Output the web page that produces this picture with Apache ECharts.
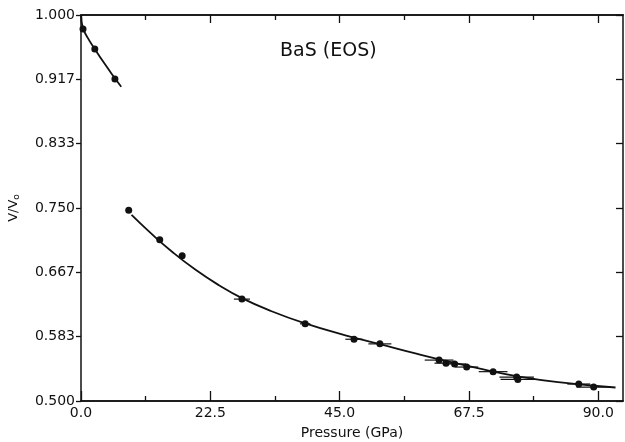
<!DOCTYPE html>
<html>
<head>
<meta charset="utf-8">
<script src="https://cdn.jsdelivr.net/npm/echarts@6/dist/echarts.min.js"></script>
<style>
  html, body { margin: 0; padding: 0; background: #fff; }
  #chart { width: 625px; height: 442px; }
</style>
</head>
<body>
<div id="chart"></div>
<script>
// low pressure phase (B1) points
var lowP = [0.35, 2.4, 5.9]
var lowV = [0.982, 0.956, 0.917]
// high pressure phase (B2) points, with pressure error half-widths
var highP = [8.3, 13.7, 17.6, 28.0, 39.0, 47.5, 52.0, 62.3, 63.5, 65.0, 67.1, 71.7, 75.8, 76.0, 86.6, 89.2]
var highV = [0.747, 0.709, 0.688, 0.632, 0.600, 0.580, 0.574, 0.553, 0.549, 0.548, 0.544, 0.538, 0.531, 0.528, 0.522, 0.518]
var highErr = [0, 0.5, 0.5, 1.4, 0.9, 1.5, 2.0, 2.5, 2.0, 2.0, 2.0, 2.5, 3.0, 3.0, 2.0, 3.0]
// fitted EOS curves
var fitLowP = [0, 0.35, 1.2, 2.4, 4.0, 5.9, 7.0]
var fitLowV = [1.0, 0.983, 0.970, 0.956, 0.938, 0.918, 0.907]
var fitHighP = [8.8, 12, 16, 20, 24, 28, 33, 39, 46, 52, 58, 64, 70, 76, 83, 93]
var fitHighV = [0.741, 0.7184, 0.6924, 0.6696, 0.650, 0.6332, 0.6167, 0.6005, 0.5851, 0.5737, 0.562, 0.551, 0.541, 0.532, 0.5245, 0.5175]
// ticks
var xMajor = [0, 22.5, 45, 67.5, 90]
var xMinor = [11.25, 33.75, 56.25, 78.75]
var yTicks = [0.5, 0.58333, 0.66667, 0.75, 0.83333, 0.91667, 1.0]

var ink = '#111'
var font = 'DejaVu Sans'

function pairs(a, b) {
  return a.map(function (v, i) { return [v, b[i]] })
}

var chart = echarts.init(document.getElementById('chart'))

function xAx(pos, ticks, len, labels) {
  return {
    type: 'value',
    position: pos,
    min: 0,
    max: 94.3,
    axisLine: { show: true, onZero: false, lineStyle: { color: ink, width: 1.5 } },
    splitLine: { show: false },
    axisTick: { show: true, inside: true, length: len, customValues: ticks, lineStyle: { color: ink, width: 1.3 } },
    axisLabel: labels ? {
      show: true,
      customValues: xMajor,
      margin: 5,
      color: ink,
      fontFamily: font,
      fontSize: 14,
      formatter: function (v) { return v.toFixed(1) }
    } : { show: false }
  }
}

var option = {
  backgroundColor: '#fff',
  animation: false,
  grid: { left: 81, right: 2, top: 15, bottom: 41, outerBoundsMode: 'none' },
  title: {
    text: 'BaS (EOS)',
    left: 275,
    top: 37,
    textStyle: { fontFamily: font, fontSize: 19, fontWeight: 'normal', color: ink }
  },
  xAxis: [
    Object.assign(xAx('bottom', xMajor, 10, true), {
      name: 'Pressure (GPa)',
      nameLocation: 'middle',
      nameGap: 25,
      nameTextStyle: { fontFamily: font, fontSize: 14, color: ink }
    }),
    xAx('bottom', xMinor, 5, false),
    xAx('top', xMajor, 8, false),
    xAx('top', xMinor, 5, false)
  ],
  yAxis: [
    {
      type: 'value',
      position: 'left',
      min: 0.5,
      max: 1.0,
      name: 'V/V{sub|o}',
      nameLocation: 'middle',
      nameGap: 60,
      nameTextStyle: {
        fontFamily: font, fontSize: 13, color: ink,
        rich: { sub: { fontFamily: font, fontSize: 9, color: ink, padding: [6, 0, 0, 0] } }
      },
      axisLine: { show: true, onZero: false, lineStyle: { color: ink, width: 1.5 } },
      splitLine: { show: false },
      axisTick: { show: true, inside: false, length: 5, customValues: yTicks, lineStyle: { color: ink, width: 1.3 } },
      axisLabel: {
        customValues: yTicks,
        margin: 6,
        color: ink,
        fontFamily: font,
        fontSize: 14,
        formatter: function (v) { return v.toFixed(3) }
      }
    },
    {
      type: 'value',
      position: 'right',
      min: 0.5,
      max: 1.0,
      axisLine: { show: true, onZero: false, lineStyle: { color: ink, width: 1.5 } },
      splitLine: { show: false },
      axisTick: { show: true, inside: true, length: 7, customValues: yTicks, lineStyle: { color: ink, width: 1.3 } },
      axisLabel: { show: false }
    }
  ],
  series: [
    {
      type: 'line',
      data: pairs(fitLowP, fitLowV),
      smooth: 0.5,
      symbol: 'none',
      lineStyle: { color: ink, width: 1.8 }
    },
    {
      type: 'line',
      data: pairs(fitHighP, fitHighV),
      smooth: 0.5,
      symbol: 'none',
      lineStyle: { color: ink, width: 1.8 }
    },
    {
      type: 'custom',
      data: highP.map(function (p, i) { return [p, highV[i], highErr[i]] }),
      renderItem: function (params, api) {
        var p = api.value(0), v = api.value(1), e = api.value(2)
        var a = api.coord([p - e, v])
        var b = api.coord([p + e, v])
        return {
          type: 'line',
          shape: { x1: a[0], y1: a[1], x2: b[0], y2: b[1] },
          style: { stroke: ink, lineWidth: 1.2 }
        }
      }
    },
    {
      type: 'scatter',
      data: pairs(lowP, lowV),
      symbol: 'circle',
      symbolSize: 7,
      itemStyle: { color: ink, opacity: 1 }
    },
    {
      type: 'scatter',
      data: pairs(highP, highV),
      symbol: 'circle',
      symbolSize: 7,
      itemStyle: { color: ink, opacity: 1 }
    }
  ]
}

chart.setOption(option)
</script>
</body>
</html>
